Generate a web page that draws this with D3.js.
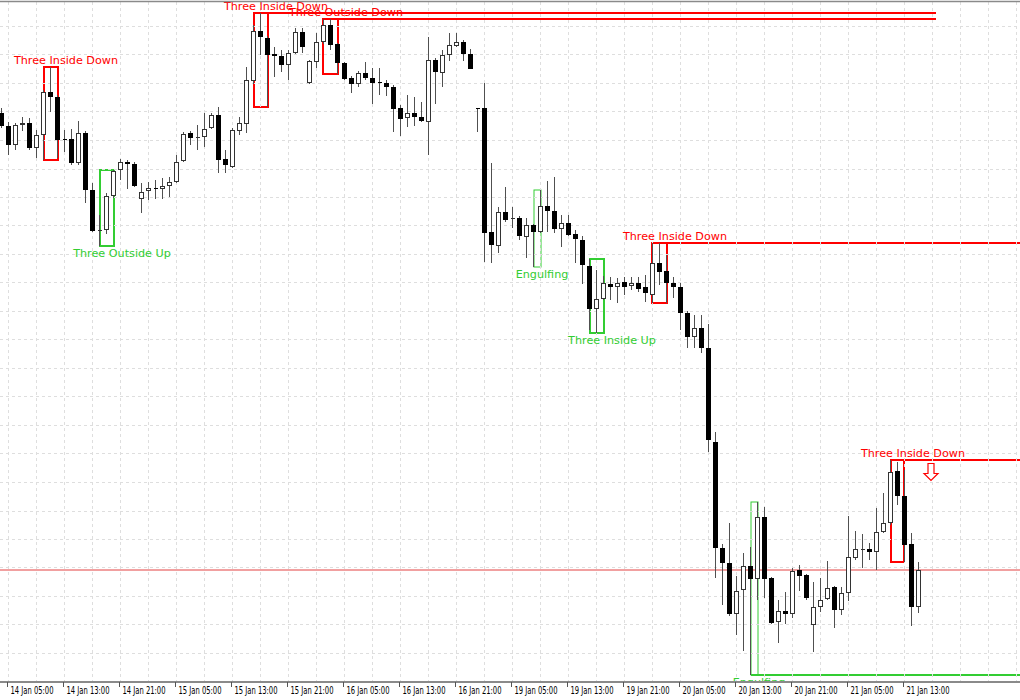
<!DOCTYPE html>
<html>
<head>
<meta charset="utf-8">
<script src="https://cdn.jsdelivr.net/npm/d3@7"></script>
<style>
  html, body { margin:0; padding:0; background:#fff; }
  svg { display:block; }
  .lbl { font-family: "DejaVu Sans", Verdana, sans-serif; font-size: 11.2px; }
  .tlbl { font-family: "DejaVu Sans Condensed", "Liberation Sans Narrow", "DejaVu Sans", sans-serif; font-size: 10.5px; fill:#000; }
</style>
</head>
<body>
<div id="chart"></div>
<script>
// H1 bars, trading days shown (weekend skipped)
var sessionDays  = [14, 15, 16, 19, 20, 21];   // January 2015
var sessionFirst = [4, 0, 0, 0, 0, 0];
var sessionLast  = [23, 23, 23, 23, 23, 15];

var openP = [
1.1887,1.1874,1.1855,1.1875,1.1877,1.1852,1.1865,1.1908,1.1903,1.1861,
1.1861,1.1837,1.1867,1.1810,1.1769,1.1770,1.1804,1.1830,1.1838,1.1836,
1.1801,1.1809,1.1812,1.1811,1.1814,1.1818,1.1839,1.1867,1.1862,1.1863,
1.1872,1.1885,1.1841,1.1833,1.1869,1.1876,1.1919,1.1969,1.1962,1.1946,
1.1944,1.1935,1.1947,1.1968,1.1917,1.1938,1.1958,1.1975,1.1956,1.1937,
1.1922,1.1916,1.1927,1.1922,1.1918,1.1917,1.1913,1.1892,1.1882,1.1887,
1.1883,1.1878,1.1940,1.1927,1.1945,1.1954,1.1958,1.1946,1.1892,1.1892,
1.1768,1.1754,1.1788,1.1781,1.1782,1.1763,1.1775,1.1768,1.1794,1.1789,
1.1771,1.1777,1.1766,1.1760,1.1734,1.1691,1.1701,1.1716,1.1713,1.1718,
1.1714,1.1717,1.1713,1.1705,1.1737,1.1729,1.1717,1.1713,1.1687,1.1663,
1.1672,1.1652,1.1558,1.1452,1.1437,1.1386,1.1410,1.1434,1.1421,1.1483,
1.1422,1.1378,1.1389,1.1386,1.1430,1.1425,1.1375,1.1393,1.1401,1.1413,
1.1390,1.1407,1.1442,1.1451,1.1451,1.1448,1.1468,1.1477,1.1529,1.1504,
1.1456,1.1393];

var highP = [
1.1892,1.1878,1.1877,1.1883,1.1882,1.1870,1.1910,1.1933,1.1905,1.1870,
1.1871,1.1879,1.1869,1.1817,1.1785,1.1807,1.1830,1.1841,1.1840,1.1838,
1.1817,1.1818,1.1820,1.1822,1.1823,1.1845,1.1868,1.1869,1.1875,1.1887,
1.1887,1.1893,1.1850,1.1872,1.1883,1.1933,1.1975,1.1987,1.1964,1.1953,
1.1950,1.1950,1.1972,1.1972,1.1940,1.1967,1.1981,1.1981,1.1957,1.1938,
1.1924,1.1929,1.1938,1.1932,1.1932,1.1920,1.1915,1.1895,1.1905,1.1903,
1.1898,1.1963,1.1942,1.1950,1.1967,1.1967,1.1960,1.1951,1.1892,1.1917,
1.1837,1.1793,1.1813,1.1793,1.1784,1.1782,1.1776,1.1810,1.1819,1.1823,
1.1785,1.1785,1.1770,1.1764,1.1741,1.1730,1.1724,1.1723,1.1722,1.1723,
1.1723,1.1723,1.1725,1.1757,1.1757,1.1745,1.1723,1.1717,1.1689,1.1685,
1.1685,1.1676,1.1568,1.1456,1.1477,1.1424,1.1447,1.1453,1.1498,1.1493,
1.1423,1.1400,1.1408,1.1432,1.1435,1.1426,1.1418,1.1422,1.1439,1.1414,
1.1413,1.1484,1.1469,1.1466,1.1457,1.1492,1.1507,1.1540,1.1538,1.1530,
1.1467,1.1438];

var lowP = [
1.1872,1.1845,1.1850,1.1869,1.1850,1.1842,1.1840,1.1888,1.1842,1.1848,
1.1835,1.1835,1.1797,1.1768,1.1754,1.1766,1.1802,1.1820,1.1811,1.1813,
1.1787,1.1800,1.1801,1.1801,1.1803,1.1817,1.1838,1.1855,1.1850,1.1853,
1.1871,1.1827,1.1827,1.1832,1.1865,1.1867,1.1916,1.1945,1.1893,1.1923,
1.1928,1.1920,1.1946,1.1947,1.1916,1.1932,1.1956,1.1950,1.1926,1.1920,
1.1907,1.1913,1.1920,1.1896,1.1905,1.1904,1.1868,1.1864,1.1873,1.1874,
1.1878,1.1845,1.1896,1.1913,1.1939,1.1953,1.1939,1.1931,1.1868,1.1738,
1.1737,1.1747,1.1778,1.1772,1.1760,1.1742,1.1733,1.1767,1.1768,1.1767,
1.1753,1.1764,1.1737,1.1716,1.1670,1.1667,1.1700,1.1700,1.1697,1.1705,
1.1710,1.1708,1.1698,1.1697,1.1715,1.1697,1.1702,1.1670,1.1652,1.1652,
1.1647,1.1548,1.1422,1.1395,1.1384,1.1365,1.1349,1.1325,1.1400,1.1402,
1.1376,1.1357,1.1376,1.1382,1.1409,1.1400,1.1348,1.1388,1.1400,1.1372,
1.1385,1.1399,1.1440,1.1432,1.1440,1.1430,1.1467,1.1475,1.1495,1.1438,
1.1374,1.1387];

var closeP = [
1.1874,1.1855,1.1875,1.1877,1.1852,1.1865,1.1908,1.1903,1.1860,1.1860,
1.1837,1.1867,1.1810,1.1769,1.1770,1.1804,1.1829,1.1838,1.1836,1.1814,
1.1808,1.1812,1.1811,1.1814,1.1818,1.1838,1.1866,1.1862,1.1863,1.1871,
1.1885,1.1840,1.1835,1.1870,1.1877,1.1920,1.1969,1.1963,1.1945,1.1944,
1.1935,1.1947,1.1968,1.1953,1.1939,1.1958,1.1975,1.1955,1.1937,1.1921,
1.1916,1.1927,1.1922,1.1917,1.1917,1.1913,1.1891,1.1881,1.1887,1.1883,
1.1879,1.1940,1.1928,1.1945,1.1955,1.1958,1.1946,1.1931,1.1891,1.1767,
1.1755,1.1788,1.1780,1.1782,1.1764,1.1775,1.1768,1.1794,1.1789,1.1771,
1.1777,1.1765,1.1761,1.1735,1.1691,1.1701,1.1717,1.1713,1.1717,1.1713,
1.1717,1.1711,1.1707,1.1737,1.1728,1.1717,1.1713,1.1687,1.1663,1.1672,
1.1652,1.1560,1.1452,1.1437,1.1386,1.1409,1.1434,1.1421,1.1483,1.1421,
1.1377,1.1389,1.1386,1.1429,1.1424,1.1402,1.1393,1.1400,1.1412,1.1390,
1.1407,1.1443,1.1451,1.1451,1.1448,1.1468,1.1477,1.1528,1.1504,1.1455,
1.1393,1.1430];

// candlestick patterns found by the indicator (bar indexes)
var patternNames = ["Three Inside Down","Three Outside Up","Three Inside Down","Three Outside Down",
                    "Engulfing","Three Inside Up","Three Inside Down","Engulfing","Three Inside Down"];
var patternBull  = [false, true, false, false, true, true, false, true, false];
var patternFirst = [6, 14, 36, 46, 76, 84, 93, 107, 127];
var patternLast  = [8, 16, 38, 48, 77, 86, 95, 108, 129];
var patternLineEnd = [null, null, 133.5, 133.5, null, null, Infinity, Infinity, Infinity];
var signalPattern = 8, signalBar = 133;

var width = 1020, height = 700, axisY = 682;
var red = "#ff0000", green = "#32cd32";

var times = [];
for (var d = 0; d < sessionDays.length; d++) {
    for (var hr = sessionFirst[d]; hr <= sessionLast[d]; hr++) {
        times.push(new Date(2015, 0, sessionDays[d], hr));
    }
}
var bars = times.map(function(t, i){
    return {t:t, i:i, o:openP[i], h:highP[i], l:lowP[i], c:closeP[i]};
});

var x = d3.scaleLinear().domain([0, bars.length-1]).range([1.5, 1.5 + 7*(bars.length-1)]);
var y = d3.scaleLinear().domain([1.1318, 1.2000]).range([axisY, 0]);
var fmt = d3.timeFormat("%d %b %H:%M");

var svg = d3.select("#chart").append("svg")
            .attr("width", width).attr("height", height);
svg.append("rect").attr("width", width).attr("height", height).attr("fill", "#fff");

// ---- patterns (boxes + level lines)
var gPat = svg.append("g");
var pats = patternNames.map(function(name, k){
    var sub = bars.slice(patternFirst[k], patternLast[k]+1);
    return {name:name, bull:patternBull[k], first:patternFirst[k], last:patternLast[k],
            lineEnd:patternLineEnd[k],
            top:d3.max(sub, function(b){return b.h;}),
            bot:d3.min(sub, function(b){return b.l;})};
});
pats.forEach(function(p){
    var col = p.bull ? green : red;
    var x0 = Math.round(x(p.first)), x1 = Math.round(x(p.last));
    var y0 = Math.round(y(p.top)), y1 = Math.round(y(p.bot));
    var sw = (p.last - p.first > 1) ? 2 : 1;
    gPat.append("rect")
        .attr("x", x0).attr("y", y0)
        .attr("width", x1 - x0).attr("height", y1 - y0)
        .attr("fill", "none").attr("stroke", col).attr("stroke-width", sw);
    if (p.lineEnd != null) {
        var ly = p.bull ? y1 : y0;
        var xe = isFinite(p.lineEnd) ? Math.min(width, x(p.lineEnd)) : width;
        gPat.append("line")
            .attr("x1", x0).attr("x2", xe)
            .attr("y1", ly).attr("y2", ly)
            .attr("stroke", col).attr("stroke-width", 2);
    }
});

// ---- grid (dashed, drawn over the level lines like the terminal does)
var gGrid = svg.append("g").attr("stroke", "#dedede").attr("stroke-dasharray", "3,3")
               .attr("shape-rendering", "crispEdges");
var gridPrices = d3.range(0, 23).map(function(k){ return 1.1974 - k*0.00285; });
gGrid.selectAll(".hg").data(gridPrices).enter().append("line")
     .attr("x1", 0).attr("x2", width)
     .attr("y1", function(p){ return Math.round(y(p)) + 0.5; })
     .attr("y2", function(p){ return Math.round(y(p)) + 0.5; });
var gridBars = d3.range(1, 160, 4).filter(function(i){ return x(i) < width; });
gGrid.selectAll(".vg").data(gridBars).enter().append("line")
     .attr("x1", function(i){ return x(i); }).attr("x2", function(i){ return x(i); })
     .attr("y1", 2).attr("y2", axisY);

// ---- bid line
var last = bars[bars.length-1];
svg.append("line")
   .attr("x1", 0).attr("x2", width)
   .attr("y1", Math.round(y(last.c))).attr("y2", Math.round(y(last.c)))
   .attr("stroke", "#ec8080").attr("stroke-width", 1.6);

// ---- candles
var gC = svg.append("g").attr("shape-rendering", "crispEdges");
gC.selectAll(".wick").data(bars).enter().append("line")
  .attr("x1", function(b){ return x(b.i); }).attr("x2", function(b){ return x(b.i); })
  .attr("y1", function(b){ return Math.round(y(b.h)); })
  .attr("y2", function(b){ return Math.round(y(b.l)); })
  .attr("stroke", "#505050").attr("stroke-width", 1);

gC.selectAll(".body").data(bars).enter().append("path")
  .attr("d", function(b){
      var t = Math.round(y(Math.max(b.o, b.c))), btm = Math.round(y(Math.min(b.o, b.c)));
      var h = Math.max(0, btm - t - 1);
      var cx = x(b.i);
      return "M" + (cx-2) + "," + (t+0.5) + "h4v" + h + "h-4Z";
  })
  .attr("fill", function(b){ return b.c < b.o ? "#000" : "#fff"; })
  .attr("stroke", function(b){ return b.c < b.o ? "#000" : "#333"; })
  .attr("stroke-width", 1);

// ---- pattern labels
pats.forEach(function(p){
    var col = p.bull ? green : red;
    var off = (p.last - p.first > 1) ? 8.5 : 1.5;
    svg.append("text").attr("class", "lbl")
       .attr("x", x(p.last) + off)
       .attr("y", p.bull ? y(p.bot) + 7.3 : y(p.top) - 6.5)
       .attr("text-anchor", "middle")
       .attr("dominant-baseline", "central")
       .attr("fill", col)
       .text(p.name);
});

// ---- signal arrow (hollow, pointing down)
var sp = pats[signalPattern];
var ax = x(signalBar) - 1.5, ay = Math.round(y(sp.top)) + 3.5;
svg.append("path")
   .attr("d", "M" + (ax-3) + "," + ay + "h6v10h4l-7,7l-7,-7h4z")
   .attr("fill", "#fff").attr("stroke", red).attr("stroke-width", 1.2);

// ---- time axis
svg.append("rect").attr("x", 0).attr("y", axisY).attr("width", width).attr("height", height - axisY)
   .attr("fill", "#fff");
svg.append("line").attr("x1", 0).attr("x2", width).attr("y1", axisY).attr("y2", axisY)
   .attr("stroke", "#8a8a8a").attr("stroke-width", 2);
svg.append("line").attr("x1", 0).attr("x2", width).attr("y1", 1.5).attr("y2", 1.5)
   .attr("stroke", "#8a8a8a").attr("stroke-width", 1.5);

var tickBars = bars.filter(function(b){ return b.t.getHours() % 8 === 5; });
var gAx = svg.append("g");
gAx.selectAll(".tk").data(tickBars).enter().append("line")
   .attr("x1", function(b){ return Math.floor(x(b.i)) - 0.5; })
   .attr("x2", function(b){ return Math.floor(x(b.i)) - 0.5; })
   .attr("y1", axisY).attr("y2", axisY + 5)
   .attr("stroke", "#555").attr("stroke-width", 1);
gAx.selectAll(".tl").data(tickBars).enter().append("text")
   .attr("class", "tlbl")
   .attr("x", function(b){ return Math.floor(x(b.i)) + 2.5; })
   .attr("y", 693.5)
   .attr("textLength", 43).attr("lengthAdjust", "spacingAndGlyphs")
   .text(function(b){ return fmt(b.t); });
</script>
</body>
</html>
